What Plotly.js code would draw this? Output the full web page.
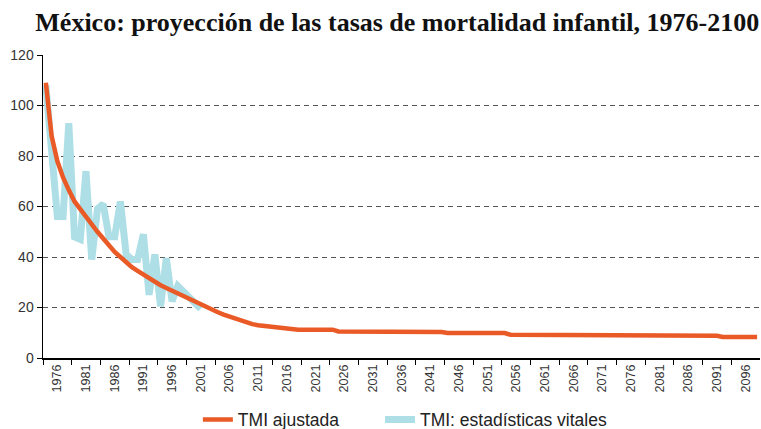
<!DOCTYPE html>
<html>
<head>
<meta charset="utf-8">
<script src="https://cdn.plot.ly/plotly-3.0.1.min.js"></script>
<style>
    body { margin: 0; background: #fff; }
    #chart { width: 761px; height: 429px; }
</style>
</head>
<body>
<div id="chart"></div>
<script>
// TMI ajustada, 1976-2100
const fitYears = [];
for (let y = 1976; y <= 2100; y++) fitYears.push(y);
const fitValues = [
    109, 88, 78, 71.5, 66.5, 62, 59, 56, 52.5, 50,
    47.3, 44.5, 42, 40, 37.8, 36, 34.5, 33, 31.6, 30.2,
    28.8, 27.7, 26.6, 25.4, 24.2, 23.1, 22.2, 21.2, 20.2, 19.2,
    18.1, 17.2, 16.4, 15.7, 15, 14.2, 13.4, 13, 12.7, 12.4,
    12.2, 12, 11.7, 11.4, 11.2,
    11.2, 11.2, 11.2, 11.2, 11.2, 11.2,
    10.5, 10.5, 10.5, 10.5, 10.5, 10.5, 10.5, 10.5, 10.5, 10.5,
    10.3, 10.3, 10.3, 10.3, 10.3, 10.3, 10.3, 10.3, 10.3,
    9.9, 9.9, 9.9, 9.9, 9.9, 9.9, 9.9, 9.9, 9.9, 9.9, 9.9,
    9.2, 9.2, 9.2, 9.2, 9.2, 9.2, 9.2, 9.2, 9.2, 9.2, 9.2, 9.2, 9.2,
    8.8, 8.8, 8.8, 8.8, 8.8, 8.8, 8.8, 8.8, 8.8, 8.8, 8.8, 8.8,
    8.8, 8.8, 8.8, 8.8, 8.8, 8.8, 8.8, 8.8, 8.8, 8.8, 8.8, 8.8,
    8.3, 8.3, 8.3, 8.3, 8.3, 8.3, 8.3
];

// TMI: estadísticas vitales, 1976-2003
const vitalYears = [];
for (let y = 1976; y <= 2003; y++) vitalYears.push(y);
const vitalValues = [
    108, 80, 56, 56, 93, 48, 47, 74, 39, 59,
    61, 48, 48, 62, 41, 39, 39, 49, 25, 41,
    20.5, 39.5, 22.5, 28.5, 26, 24, 21.5, 19.5
];

// one label per 5-year block
const tickYears = [];
for (let y = 1976; y <= 2096; y += 5) tickYears.push(y);

const seriesNames = ["TMI ajustada", "TMI: estadísticas vitales"];

// each year sits in the middle of its slot on the date axis
function toDate(year) {
    return year + "-07-01";
}

const chartData = [
    {
        x: vitalYears.map(toDate),
        y: vitalValues,
        mode: "lines",
        type: "scatter",
        name: seriesNames[1],
        legend: "legend2",
        line: { color: "#aedfe6", width: 7 },
    },
    {
        x: fitYears.map(toDate),
        y: fitValues,
        mode: "lines",
        type: "scatter",
        name: seriesNames[0],
        legend: "legend",
        line: { color: "#e95a27", width: 4.5 },
    }
];

const legendFont = { family: "Liberation Sans, Arial, sans-serif", size: 17.5, color: "#222" };

const layout = {
    width: 761,
    height: 429,
    margin: { l: 43, r: 1, t: 55, b: 71, autoexpand: false },
    paper_bgcolor: "#fff",
    plot_bgcolor: "#fff",
    font: { family: "Liberation Sans, Arial, sans-serif", color: "#333" },
    title: {
        text: "<b>México: proyección de las tasas de mortalidad infantil, 1976-2100</b>",
        font: { family: "Liberation Serif, serif", size: 26, color: "#111" },
        x: 0.522,
        xanchor: "center",
        y: 0.948,
        yanchor: "middle",
    },
    xaxis: {
        type: "date",
        range: ["1976-01-01", "2101-01-01"],
        tickmode: "array",
        tickvals: tickYears.map(y => (y + 2) + "-07-01"),
        ticktext: tickYears.map(String),
        ticks: "",
        tickangle: -90,
        minor: {
            tickmode: "array",
            tickvals: tickYears.map(y => y + "-01-01"),
            ticks: "outside",
            ticklen: 5,
            tickcolor: "#000",
            showgrid: false,
        },
        showline: true,
        linecolor: "#000",
        linewidth: 1.5,
        showgrid: false,
        zeroline: false,
        tickfont: { size: 12.6, color: "#333" },
    },
    yaxis: {
        range: [0, 120],
        tickvals: [0, 20, 40, 60, 80, 100, 120],
        ticks: "outside",
        ticklen: 5,
        tickcolor: "#000",
        showline: true,
        linecolor: "#000",
        linewidth: 1.5,
        showgrid: true,
        gridcolor: "#555",
        griddash: "5px,4px",
        gridwidth: 1,
        zeroline: false,
        tickfont: { size: 14, color: "#333" },
    },
    showlegend: true,
    legend: {
        orientation: "h",
        x: 0.216,
        xanchor: "left",
        y: -0.144,
        yanchor: "top",
        font: legendFont,
    },
    legend2: {
        orientation: "h",
        x: 0.47,
        xanchor: "left",
        y: -0.144,
        yanchor: "top",
        font: legendFont,
    },
};

Plotly.newPlot(document.getElementById("chart"), chartData, layout, { staticPlot: true });
</script>
</body>
</html>
